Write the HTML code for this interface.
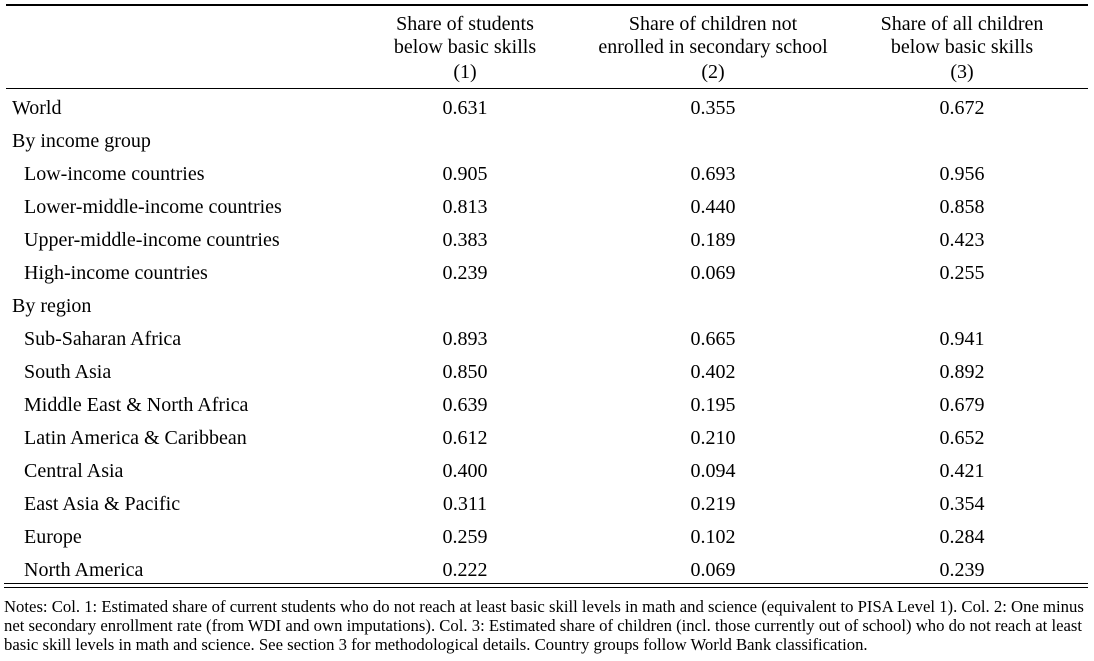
<!DOCTYPE html>
<html><head><meta charset="utf-8"><style>
body{margin:0;width:1094px;height:661px;background:#fff;font-family:"Liberation Serif",serif;color:#000;position:relative;overflow:hidden}
.t{position:absolute;white-space:nowrap;font-size:20px;line-height:20px}
.c{transform:translateX(-50%);text-align:center}
.r{position:absolute;background:#000}
.n{position:absolute;left:4px;font-size:16.7px;line-height:19px;white-space:nowrap}
</style></head><body>
<div class="r" style="left:6px;top:4px;width:1082px;height:2px"></div>
<div class="r" style="left:6px;top:88px;width:1082px;height:1px"></div>
<div class="r" style="left:4px;top:583px;width:1084px;height:1px"></div>
<div class="r" style="left:4px;top:587px;width:1084px;height:1px"></div>
<div class="t c" style="left:465px;top:13px;line-height:23px">Share of students<br>below basic skills<br><span style="line-height:27px">(1)</span></div>
<div class="t c" style="left:713px;top:13px;line-height:23px">Share of children not<br>enrolled in secondary school<br><span style="line-height:27px">(2)</span></div>
<div class="t c" style="left:962px;top:13px;line-height:23px">Share of all children<br>below basic skills<br><span style="line-height:27px">(3)</span></div>
<div id="rows"></div>
<div class="n" style="top:597px">Notes: Col. 1: Estimated share of current students who do not reach at least basic skill levels in math and science (equivalent to PISA Level 1). Col. 2: One minus<br>net secondary enrollment rate (from WDI and own imputations). Col. 3: Estimated share of children (incl. those currently out of school) who do not reach at least<br>basic skill levels in math and science. See section 3 for methodological details. Country groups follow World Bank classification.</div>
<script>
const labels=["World","By income group","Low-income countries","Lower-middle-income countries","Upper-middle-income countries","High-income countries","By region","Sub-Saharan Africa","South Asia","Middle East & North Africa","Latin America & Caribbean","Central Asia","East Asia & Pacific","Europe","North America"];
const indent=[0,0,1,1,1,1,0,1,1,1,1,1,1,1,1];
const col1=["0.631","","0.905","0.813","0.383","0.239","","0.893","0.850","0.639","0.612","0.400","0.311","0.259","0.222"];
const col2=["0.355","","0.693","0.440","0.189","0.069","","0.665","0.402","0.195","0.210","0.094","0.219","0.102","0.069"];
const col3=["0.672","","0.956","0.858","0.423","0.255","","0.941","0.892","0.679","0.652","0.421","0.354","0.284","0.239"];
const host=document.getElementById('rows');
const xs=[465,713,962];
labels.forEach((l,i)=>{
  const y=97.5+33*i;
  const d=document.createElement('div');
  d.className='t';
  
  
  d.style.left=(indent[i]?24:12)+'px';d.style.top=y+'px';d.textContent=l;host.appendChild(d);
  [col1,col2,col3].forEach((c,j)=>{
    if(!c[i])return;
    const e=document.createElement('div');
    e.className='t c';
    
    
    e.style.left=xs[j]+'px';e.style.top=y+'px';e.textContent=c[i];host.appendChild(e);
  });
});
</script>
</body></html>
